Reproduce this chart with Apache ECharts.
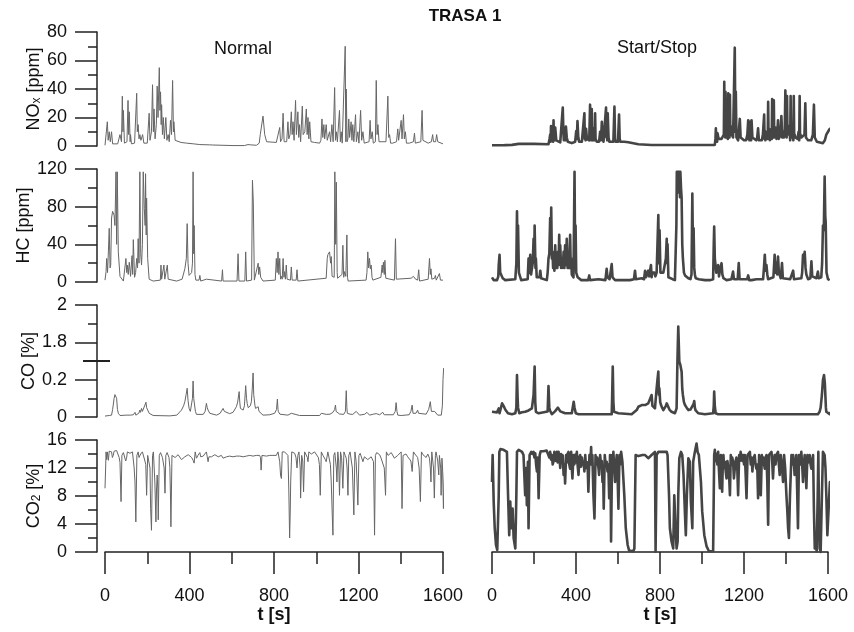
<!DOCTYPE html>
<html><head><meta charset="utf-8">
<script src="https://cdn.jsdelivr.net/npm/echarts@6/dist/echarts.min.js"></script>
<style>html,body{margin:0;padding:0;background:#fff}#c{width:854px;height:632px}</style>
</head><body><div id="c"></div>
<script>
const FONT = '"Liberation Sans", Arial, sans-serif';

// ---- time axis ----
const tMin = 0, tMax = 1600, tInterval = 400;

// ---- NOx [ppm] ----
const noxNormal = [[0,0.5],[8,1],[11,17],[15,4],[20,10],[25,3],[31,10],[36,1.5],[60,1.5],[71,8],[78,3],[82,35],[85,10],[87,25],[92,2],[104,3],[109,32],[112,8],[115,24],[119,3],[121,8],[125,1.5],[140,2],[150,37],[153,10],[157,15],[161,5],[165,8],[170,4],[178,8],[184,2],[200,2],[209,23],[213,4],[220,10],[225,43],[229,10],[232,26],[237,5],[243,15],[247,42],[251,20],[257,55],[260,25],[263,38],[266,15],[268,29],[272,8],[276,20],[281,5],[288,20],[293,4],[299,8],[304,3],[310,18],[315,8],[320,46],[324,10],[326,17],[332,4],[339,3.5],[360,2.5],[386,2],[420,1.5],[449,1],[496,0.8],[504,1.5],[510,0.7],[606,0.3],[660,0.3],[677,1],[690,0.8],[717,0.5],[730,2],[735,8],[748,21],[756,8],[765,3],[772,3],[811,2.5],[820,3],[827,13],[831,3],[838,5],[843,23],[848,3],[860,3],[866,17],[870,5],[876,8],[882,24],[886,8],[890,17],[895,4],[902,32],[906,8],[913,24],[917,6],[921,15],[926,3],[934,28],[938,8],[946,10],[953,26],[957,8],[961,20],[965,5],[969,17],[975,3],[992,2.5],[1016,2],[1022,4],[1027,19],[1031,6],[1036,15],[1040,5],[1047,15],[1052,4],[1063,10],[1068,3],[1074,15],[1080,3],[1087,41],[1091,4],[1095,10],[1100,3],[1110,25],[1114,3],[1118,10],[1123,2],[1132,3],[1137,70],[1140,3],[1142,40],[1146,3],[1150,5],[1154,19],[1158,6],[1165,17],[1169,4],[1173,15],[1178,3],[1186,22],[1190,3],[1197,10],[1202,2],[1210,25],[1215,4],[1221,10],[1227,2],[1236,2],[1250,3],[1255,18],[1259,5],[1265,10],[1270,2],[1280,3],[1284,46],[1288,8],[1292,15],[1297,3],[1307,3],[1330,3],[1339,35],[1343,6],[1347,8],[1352,2],[1362,2],[1380,3],[1386,12],[1390,4],[1402,18],[1406,5],[1413,22],[1417,5],[1422,10],[1427,2],[1441,2],[1460,3],[1465,9],[1469,2],[1473,2],[1495,3],[1501,25],[1505,4],[1512,3],[1530,2],[1545,3],[1551,8],[1555,3],[1559,3],[1565,3],[1570,8],[1575,3],[1583,2],[1600,1.5]];
const noxStartStop = [[0,0.5],[60,0.6],[95,0.8],[127,1.5],[200,1.5],[269,1.2],[274,5],[277,8],[279,3],[281,14],[283,6],[285,13.6],[287,4],[289,7],[291,3],[293,18],[295,5],[297,10],[299,4],[301,13],[306,4],[325,2.5],[333,3],[337,27],[340,10],[342,4],[344,5],[346,3],[348,8],[350,4],[352,13.6],[356,6],[361,3],[380,2],[396,3],[401,10.5],[404,5],[407,17.5],[411,6],[415,3],[428,3],[436,4],[440,23],[442,5],[444,8],[446,4],[448,12],[452,5],[456,4],[463,4],[467,29],[469,5],[471,8],[473,4],[475,26],[477,6],[479,5],[481,4],[483,12],[485,4],[487,6],[489,4],[491,23],[493,5],[495,5],[499,3],[510,3],[515,10],[519,4],[523,17],[527,5],[531,3],[539,3],[543,27],[545,6],[547,8],[549,4],[551,23],[555,6],[559,3],[578,3],[583,27.6],[586,5],[589,3],[600,3],[605,22],[608,5],[611,3],[618,4],[630,3],[649,2.6],[697,1.2],[760,0.7],[1061,0.8],[1064,5],[1066,12.4],[1068,4],[1070,7],[1072,3],[1074,9],[1079,5],[1085,6],[1093,5],[1100,5],[1104,8],[1106,45],[1108,8],[1109,20],[1111,6],[1112,38],[1114,8],[1115,15],[1117,26],[1119,6],[1121,12],[1123,5],[1125,37],[1127,8],[1129,15],[1131,6],[1133,36],[1135,8],[1137,14],[1142,8],[1148,6],[1152,6],[1156,69],[1159,10],[1161,38],[1164,6],[1166,6],[1172,4],[1180,19],[1184,6],[1188,5],[1200,4],[1210,4],[1216,8],[1220,18],[1222,5],[1224,8],[1226,4],[1228,17],[1230,5],[1232,8],[1234,4],[1236,18],[1240,6],[1243,5],[1258,4],[1263,6],[1267,12.4],[1271,4],[1275,3],[1285,4],[1290,8],[1296,22],[1298,5],[1300,8],[1302,4],[1304,10],[1309,8],[1313,5],[1315,31],[1317,6],[1318,10],[1321,12],[1323,4],[1326,6],[1330,8],[1332,5],[1334,33],[1336,8],[1338,15],[1340,6],[1342,32],[1344,6],[1346,10],[1350,13],[1355,5],[1358,8],[1362,18],[1366,5],[1370,5],[1374,8],[1378,21],[1382,6],[1386,10],[1390,6],[1394,10],[1397,39],[1399,8],[1401,14],[1403,6],[1405,35],[1407,8],[1409,12],[1413,14],[1418,8],[1420,4],[1422,35],[1424,6],[1426,10],[1429,14],[1433,8],[1435,4],[1437,35],[1439,6],[1441,8],[1445,6],[1455,5],[1460,10],[1463,4],[1465,35],[1467,6],[1469,8],[1473,6],[1480,5],[1488,8],[1492,30],[1495,6],[1498,6],[1505,4],[1513,3],[1520,4],[1528,8],[1533,29],[1537,6],[1540,5],[1547,3],[1552,2],[1576,2],[1585,4],[1592,8],[1600,10],[1608,12],[1614,12]];

// ---- HC [ppm] ----
const hcNormal = [[0,2],[5,11],[8,25],[12,10],[16,32],[20,57],[24,15],[27,18],[31,68],[36,75],[43,71],[47,60],[52,117],[55,40],[58,117],[63,32],[71,6],[87,1],[95,3],[99,25],[103,10],[106,18],[110,8],[115,21],[121,6],[128,28],[131,8],[134,45],[140,5],[145,10],[150,25],[154,15],[157,46],[161,20],[165,117],[169,30],[173,18],[177,40],[181,117],[186,78],[190,60],[192,115],[195,50],[197,89],[202,25],[209,3],[228,1],[262,2],[265,18],[268,3],[272,2],[276,4],[279,18],[283,3],[287,2],[291,3],[295,18],[299,3],[302,1],[339,1],[365,3],[378,14],[385,25],[389,62],[393,20],[398,7],[410,10],[414,20],[417,117],[420,30],[422,60],[426,8],[430,2],[445,2],[449,7],[453,1],[480,3],[484,1],[488,1],[552,1],[556,13],[559,1],[625,1],[630,30],[634,1],[662,1],[666,32],[670,1],[694,2],[698,108],[702,85],[707,2],[725,20],[728,8],[732,16],[737,5],[740,7],[748,1],[806,2],[811,25],[815,10],[819,32],[823,8],[827,25],[831,3],[835,6],[839,3],[843,25],[847,5],[850,11],[854,3],[858,18],[862,3],[866,4],[878,2],[882,16],[886,2],[890,4],[905,2],[909,13],[913,1],[1047,4],[1052,25],[1055,29],[1063,32],[1068,20],[1071,27],[1075,6],[1079,4],[1085,5],[1088,117],[1092,40],[1095,106],[1099,10],[1101,4],[1110,4],[1122,8],[1126,39],[1130,5],[1134,11],[1140,6],[1145,50],[1148,5],[1151,1],[1236,2],[1240,10],[1244,32],[1248,15],[1252,25],[1256,14],[1260,18],[1264,5],[1268,2],[1306,5],[1312,18],[1315,10],[1318,21],[1322,8],[1325,23],[1329,4],[1331,2],[1370,2],[1375,46],[1379,3],[1381,1],[1449,4],[1455,3],[1460,6],[1465,4],[1470,3],[1480,2],[1485,13],[1489,1],[1530,3],[1536,25],[1540,8],[1543,14],[1547,3],[1551,2],[1560,4],[1564,7],[1568,2],[1575,3],[1583,9],[1588,2],[1600,2]];
const hcStartStop = [[0,5],[8,2],[24,2],[30,6],[32,18],[36,29],[39,10],[41,8],[51,4],[63,2],[111,3],[116,20],[119,75],[122,30],[124,60],[128,10],[130,8],[139,2],[170,3],[174,25],[178,10],[182,29],[186,8],[190,10],[194,20],[198,46],[201,25],[203,60],[207,15],[209,25],[213,5],[217,4],[226,5],[230,12],[234,4],[238,3],[261,2],[265,10],[269,25],[273,30],[277,68],[280,30],[282,79],[285,25],[288,32],[291,15],[293,25],[297,12],[301,39],[304,15],[307,25],[311,15],[314,32],[317,18],[320,50],[323,20],[325,39],[329,15],[333,22],[337,15],[341,32],[345,15],[348,39],[352,18],[356,46],[360,15],[364,28],[368,15],[372,50],[375,15],[377,25],[380,8],[383,10],[388,5],[393,117],[396,20],[398,60],[401,10],[404,10],[408,5],[412,6],[425,2],[436,2],[458,2],[463,7],[467,2],[507,3],[515,2],[540,2],[546,14],[550,5],[554,7],[560,3],[566,5],[570,19],[574,5],[578,6],[586,2],[594,2],[657,2],[676,3],[681,12],[685,3],[689,2],[713,4],[724,3],[729,12],[733,5],[737,6],[741,5],[744,12],[748,6],[752,8],[757,18],[760,5],[763,10],[768,8],[773,10],[778,6],[784,10],[788,8],[792,71],[795,20],[798,55],[802,10],[805,9],[810,8],[816,10],[822,8],[828,25],[832,46],[834,20],[836,40],[840,5],[843,3],[860,3],[871,2],[876,3],[878,60],[880,117],[882,100],[884,117],[886,95],[888,117],[890,105],[893,117],[895,90],[897,117],[900,100],[903,89],[906,40],[909,25],[914,10],[919,7],[927,5],[935,4],[945,3],[950,8],[954,94],[957,30],[960,57],[963,15],[966,8],[970,4],[974,5],[985,3],[1014,2],[1040,2],[1053,3],[1056,40],[1058,59],[1061,25],[1065,25],[1068,10],[1071,12],[1074,8],[1077,18],[1081,6],[1085,12],[1089,10],[1093,20],[1097,8],[1102,4],[1117,2],[1140,3],[1148,11],[1152,3],[1156,2],[1170,3],[1175,20],[1179,3],[1182,2],[1215,3],[1220,7],[1225,2],[1236,2],[1259,3],[1267,2],[1291,3],[1295,15],[1299,29],[1303,12],[1307,18],[1311,8],[1315,3],[1340,5],[1346,29],[1350,10],[1354,20],[1358,8],[1362,27],[1366,10],[1370,12],[1375,4],[1381,20],[1385,4],[1388,3],[1420,3],[1429,4],[1434,12],[1438,3],[1441,2],[1473,4],[1477,10],[1481,29],[1485,22],[1489,32],[1493,15],[1497,8],[1505,3],[1516,4],[1521,22],[1525,6],[1529,4],[1545,4],[1552,11],[1556,4],[1560,3],[1568,5],[1572,20],[1576,60],[1580,55],[1584,112],[1587,70],[1589,64],[1593,10],[1595,8],[1600,3],[1608,2]];

// ---- CO [%] (broken axis 0.3 .. 1.7) ----
const coNormal = [[0,0.005],[20,0.008],[31,0.01],[36,0.04],[39,0.064],[43,0.1],[47,0.12],[51,0.11],[55,0.1],[59,0.04],[63,0.02],[71,0.008],[100,0.01],[120,0.01],[134,0.012],[142,0.025],[146,0.01],[150,0.012],[160,0.02],[165,0.037],[168,0.025],[173,0.046],[177,0.03],[181,0.02],[185,0.04],[189,0.064],[194,0.079],[197,0.05],[200,0.046],[209,0.02],[228,0.008],[307,0.006],[340,0.01],[362,0.037],[372,0.06],[378,0.082],[384,0.12],[389,0.154],[393,0.09],[398,0.046],[404,0.03],[410,0.02],[414,0.1],[417,0.193],[420,0.1],[424,0.064],[428,0.03],[433,0.014],[465,0.014],[474,0.03],[480,0.073],[484,0.05],[488,0.037],[496,0.02],[504,0.014],[528,0.01],[545,0.02],[559,0.046],[565,0.03],[572,0.02],[590,0.018],[606,0.025],[615,0.035],[622,0.055],[628,0.08],[635,0.136],[638,0.08],[641,0.046],[648,0.04],[654,0.037],[660,0.06],[666,0.168],[670,0.1],[673,0.073],[678,0.05],[682,0.046],[688,0.06],[693,0.082],[697,0.15],[701,0.236],[704,0.12],[706,0.1],[710,0.06],[713,0.046],[720,0.05],[725,0.055],[729,0.03],[732,0.02],[748,0.01],[780,0.012],[803,0.02],[812,0.04],[816,0.096],[819,0.04],[821,0.028],[828,0.015],[835,0.01],[866,0.01],[875,0.015],[882,0.02],[890,0.014],[921,0.008],[1016,0.008],[1024,0.02],[1030,0.012],[1047,0.014],[1065,0.015],[1079,0.025],[1087,0.04],[1091,0.064],[1094,0.03],[1098,0.02],[1110,0.016],[1130,0.014],[1138,0.03],[1142,0.141],[1145,0.05],[1147,0.02],[1160,0.015],[1173,0.014],[1182,0.02],[1189,0.03],[1193,0.02],[1205,0.01],[1230,0.015],[1240,0.025],[1244,0.032],[1248,0.015],[1252,0.01],[1270,0.015],[1284,0.018],[1300,0.012],[1315,0.025],[1322,0.012],[1331,0.008],[1365,0.012],[1374,0.03],[1378,0.077],[1382,0.03],[1386,0.01],[1402,0.008],[1440,0.012],[1448,0.03],[1454,0.064],[1458,0.02],[1460,0.014],[1472,0.02],[1480,0.037],[1484,0.02],[1488,0.01],[1520,0.015],[1532,0.04],[1540,0.082],[1545,0.03],[1551,0.02],[1560,0.03],[1567,0.037],[1575,0.01],[1583,0.008],[1592,0.01],[1597,0.06],[1600,0.2],[1603,0.262]];
const coStartStop = [[0,0.028],[8,0.02],[24,0.025],[32,0.046],[36,0.02],[40,0.025],[48,0.073],[52,0.082],[55,0.06],[63,0.04],[76,0.02],[95,0.015],[111,0.02],[116,0.05],[119,0.225],[122,0.1],[124,0.05],[130,0.02],[143,0.025],[158,0.028],[174,0.035],[190,0.046],[198,0.118],[203,0.27],[206,0.08],[209,0.028],[222,0.02],[265,0.03],[269,0.166],[273,0.05],[276,0.035],[285,0.015],[300,0.03],[309,0.037],[314,0.05],[320,0.055],[325,0.03],[329,0.028],[348,0.02],[380,0.02],[389,0.082],[393,0.05],[399,0.02],[412,0.015],[570,0.015],[572,0.1],[575,0.27],[578,0.08],[581,0.028],[602,0.02],[665,0.015],[689,0.037],[697,0.055],[705,0.05],[713,0.064],[721,0.06],[729,0.064],[737,0.07],[744,0.073],[752,0.08],[760,0.118],[764,0.06],[768,0.064],[776,0.046],[780,0.1],[784,0.154],[788,0.2],[792,0.243],[795,0.12],[797,0.154],[801,0.08],[805,0.064],[810,0.05],[816,0.037],[820,0.04],[824,0.046],[828,0.06],[832,0.073],[836,0.07],[840,0.064],[845,0.04],[848,0.037],[855,0.028],[863,0.025],[871,0.02],[879,0.046],[883,0.3],[887,1.884],[892,0.296],[895,0.29],[897,0.279],[900,0.26],[903,0.243],[906,0.15],[909,0.118],[914,0.08],[919,0.064],[927,0.05],[935,0.037],[945,0.04],[954,0.046],[960,0.07],[963,0.086],[966,0.05],[969,0.037],[982,0.02],[1014,0.015],[1053,0.02],[1056,0.06],[1058,0.136],[1061,0.06],[1065,0.02],[1077,0.015],[1200,0.015],[1300,0.015],[1400,0.015],[1500,0.015],[1552,0.015],[1560,0.028],[1565,0.05],[1571,0.118],[1576,0.2],[1581,0.225],[1585,0.18],[1587,0.19],[1590,0.05],[1592,0.028],[1608,0.015],[1615,0.028]];
const coTickLabels = [0, 0.2, 1.8, 2];
const coBreak = [0.3, 1.7];

// ---- CO2 [%] ----
const co2Normal = [[0,9.1],[3,12],[5,14.3],[8,13.2],[11,14.3],[16,13.1],[20,14.4],[26,14.2],[31,14.3],[35,13.5],[39,13.8],[43,14.4],[47,14.3],[55,14.5],[63,14.4],[67,13.5],[71,12.8],[76,7.2],[80,13.8],[87,14.2],[94,14],[98,13],[102,13.4],[106,14.3],[110,14.3],[118,14.1],[126,14],[130,14.3],[134,14.3],[138,12],[142,10],[146,4.3],[151,13.8],[157,14.3],[161,13.5],[165,13.4],[169,14],[173,13.8],[177,14.3],[181,14.3],[189,13],[193,12.5],[197,8.1],[202,13.8],[209,13.8],[213,12],[216,6.2],[220,3.1],[225,13.8],[229,14.3],[232,14.3],[236,10],[241,4.3],[244,9],[247,11],[250,9],[252,4.6],[257,13.8],[263,14.2],[268,14.3],[272,13.5],[276,13.4],[280,12],[284,8.4],[288,13.8],[294,14.2],[299,14.3],[303,13.5],[307,12.1],[310,8],[312,3.6],[317,13.8],[322,14],[326,13.9],[332,13.5],[339,13.6],[346,13.9],[354,13.8],[362,13.2],[370,13.4],[378,13.6],[386,13.6],[394,13.9],[402,13.9],[410,13.5],[417,13.1],[422,12.7],[427,14.3],[433,13.4],[440,13.8],[449,14.2],[453,13.6],[457,13.4],[461,13.7],[465,13.7],[472,14],[480,14.3],[484,13.6],[488,12.9],[492,13.6],[496,13.8],[504,13.6],[512,13.6],[520,13.9],[528,13.7],[536,13.6],[543,13.7],[551,13.8],[559,13.4],[567,13.6],[575,13.6],[590,13.7],[606,13.6],[622,13.7],[638,13.7],[654,13.6],[669,13.7],[685,13.8],[701,13.7],[716,13.8],[732,13.8],[736,13.5],[739,11.7],[743,13.8],[750,13.8],[764,13.7],[780,13.8],[795,13.8],[811,13.8],[819,14.3],[823,14.5],[827,12.9],[831,11],[835,10.5],[839,14.3],[845,14.4],[850,14.3],[858,14.1],[866,13.8],[870,9],[874,2],[877,6],[879,10],[884,14.3],[890,14.3],[898,14.1],[904,13.5],[909,12],[913,13.8],[918,14.3],[921,14.3],[924,12],[926,7.7],[931,13.8],[936,13],[940,8.6],[945,14.3],[950,14.3],[953,14.3],[958,13.5],[961,12.9],[965,14.3],[969,14.3],[977,14],[984,14.1],[992,14.3],[1000,14.3],[1010,13.5],[1015,12.5],[1019,8.1],[1024,14.3],[1032,13.8],[1039,13.8],[1043,13.2],[1047,12.9],[1055,14.3],[1063,14.3],[1067,12.5],[1071,10],[1075,6],[1079,2.4],[1083,13.8],[1088,14.2],[1091,14.3],[1095,12],[1098,10],[1102,14.3],[1106,13],[1110,8.1],[1115,14.3],[1120,13.5],[1126,9.1],[1131,14.3],[1137,13.8],[1142,13.4],[1146,12],[1150,8.1],[1154,13.8],[1160,14.3],[1165,14.3],[1171,12],[1178,5.3],[1183,14.3],[1189,12.9],[1193,10],[1197,6.7],[1202,13.8],[1208,14.1],[1213,14.3],[1221,12.9],[1228,13.6],[1236,13.8],[1244,13.2],[1252,13.4],[1260,13.6],[1271,12.9],[1274,7],[1276,2.4],[1280,13.8],[1286,14.2],[1292,14.3],[1300,13.9],[1307,13.4],[1315,13.6],[1322,12],[1328,8.1],[1332,14.3],[1340,13.8],[1347,13.8],[1355,14.2],[1362,14.3],[1370,13.4],[1378,13.6],[1386,13.8],[1394,14],[1402,14.3],[1406,6.2],[1411,13.8],[1418,14],[1425,14],[1433,13.6],[1441,13.4],[1448,13],[1454,11.5],[1460,14.3],[1467,14],[1473,13.8],[1480,13.5],[1487,12],[1493,7.2],[1498,14.3],[1505,13.9],[1512,13.8],[1520,13.5],[1528,14],[1536,13.4],[1540,12],[1543,10],[1547,14.3],[1551,14.3],[1555,12],[1559,7.7],[1564,13.8],[1567,14.3],[1570,14.3],[1575,13],[1580,11],[1583,13.8],[1586,13.8],[1589,12],[1591,8.1],[1595,13.4],[1598,12],[1602,6.2],[1605,10],[1607,11.5]];
const co2StartStop = [[0,10],[3,13.85],[8,7.2],[13,3.4],[19,1],[25,0.3],[32,8.1],[35,14.3],[40,14.7],[55,14.6],[71,14.3],[76,8.6],[82,2.4],[87,7.2],[92,3.4],[98,6.2],[103,2],[111,0.5],[116,8.1],[119,14.3],[127,14.6],[143,14.3],[150,13.85],[158,8.1],[162,12],[166,6.7],[171,12.9],[174,3.4],[179,13.85],[187,14.3],[192,14],[198,14.3],[202,13.5],[206,14.1],[210,12.5],[214,11.5],[218,13.5],[222,7.7],[227,13.85],[232,14.4],[238,14.6],[245,14.4],[253,14.3],[260,14.5],[269,14.3],[273,13.5],[277,14.3],[281,13.2],[285,13.85],[289,12.5],[293,12.9],[297,14.3],[301,14.3],[305,13],[309,14.3],[313,12.8],[317,14.3],[321,13.5],[325,12],[329,14],[333,12.9],[337,13.8],[341,11],[345,12.5],[348,9.8],[353,13.85],[357,12.8],[360,14],[364,14.3],[368,12.5],[372,11.9],[377,14.3],[380,12],[383,10.5],[388,13.85],[392,12.5],[396,13.9],[400,12.8],[404,14.3],[408,12.3],[412,11],[416,13.5],[420,13.85],[424,12.2],[428,13.5],[432,12.5],[436,12.9],[440,11.5],[444,13.85],[448,12],[451,11.9],[455,12.8],[459,8.6],[464,13.85],[468,12.5],[472,15],[475,12.5],[478,13.85],[483,8.1],[488,4.8],[493,13.85],[497,12.5],[501,13.5],[504,13.4],[507,12],[510,11],[515,13.85],[519,12.5],[523,13],[526,10],[529,12],[532,6.2],[537,13.85],[541,12.5],[546,12.9],[550,11.5],[554,12.5],[558,7.7],[562,13.85],[565,10],[567,1.5],[570,9],[572,13.85],[575,12.5],[578,14.3],[582,12],[586,10],[590,12.5],[594,13.85],[598,11],[602,6.2],[607,13.85],[611,12.5],[615,14.3],[621,12.9],[630,8.1],[637,3.4],[646,1],[653,0.2],[673,0.1],[678,0.5],[684,13.85],[689,13.85],[697,13.7],[705,13.6],[717,13.85],[729,13.85],[744,13.4],[760,13.85],[776,14.3],[779,0.05],[784,13.85],[792,14.3],[808,14.3],[832,14.3],[836,13.85],[843,8.1],[847,3.4],[855,1.5],[863,0.5],[868,8.1],[874,3.4],[879,0.5],[884,1.5],[887,8.1],[892,13.4],[900,14.3],[906,13.85],[912,11],[919,5.3],[923,2.4],[928,8.1],[935,13.4],[942,12.9],[947,7.2],[954,3.4],[958,12.9],[966,14.3],[974,15.5],[979,14.3],[985,13.85],[995,10],[1001,5.8],[1011,2.4],[1022,0.8],[1033,0.1],[1053,0.1],[1058,13.85],[1061,14.6],[1065,13],[1069,14],[1073,12.5],[1077,14.3],[1081,11.5],[1085,9.1],[1090,13.85],[1093,12],[1096,8.6],[1099,12.5],[1102,13.85],[1106,12],[1109,12.9],[1113,11.5],[1117,10.5],[1121,13],[1125,12.9],[1129,11],[1133,8.1],[1137,13.85],[1141,12.5],[1144,13.5],[1148,12.9],[1152,10.5],[1156,11.9],[1160,13],[1164,13.5],[1168,12],[1172,8.1],[1177,13.85],[1181,13],[1184,14.3],[1188,14.3],[1192,13],[1196,13.85],[1200,12.5],[1204,13.85],[1208,11],[1212,7.7],[1217,13.85],[1222,14.1],[1228,14.3],[1232,12.5],[1236,13.5],[1240,11.5],[1243,12.9],[1247,13.5],[1251,13.85],[1255,12.5],[1259,11.9],[1263,12.5],[1267,7.7],[1272,13.85],[1276,12.5],[1280,8.1],[1285,13.85],[1289,12.5],[1292,13.5],[1296,12.5],[1299,11.9],[1303,13.5],[1307,13.85],[1311,10],[1315,3.9],[1319,13.85],[1325,14.1],[1331,14.3],[1335,12.5],[1338,10.5],[1342,13],[1346,13.85],[1350,12.5],[1355,13.9],[1362,14.3],[1366,12.5],[1370,11],[1375,13.85],[1380,12.5],[1386,10],[1391,13.85],[1396,12],[1402,8.1],[1406,6],[1410,3.4],[1414,2],[1419,8.1],[1426,13.85],[1430,12.5],[1434,13.85],[1438,12.5],[1441,11],[1449,13.85],[1453,9],[1457,3.4],[1462,13.85],[1467,12.5],[1473,14.3],[1477,12.5],[1481,10],[1485,12.5],[1489,13.85],[1493,12],[1497,9.1],[1502,13.85],[1507,12.8],[1513,13.85],[1517,12.5],[1521,11.9],[1525,13],[1529,13.85],[1533,6],[1537,0.5],[1541,1.5],[1546,0.1],[1551,8.1],[1554,14.3],[1557,6],[1560,0.5],[1565,0],[1571,8.1],[1576,14.3],[1580,14.3],[1584,13.85],[1588,12],[1592,8.1],[1597,2.4],[1603,6.2],[1609,10],[1616,9.1],[1620,10]];

const columnTitles = ['Normal', 'Start/Stop'];
const mainTitle = 'TRASA 1';

function coToAxis(v) { return v > coBreak[0] ? v - (coBreak[1] - coBreak[0]) : v; }

const rows = [
  { name: 'NO{s|x} [ppm]', max: 80, interval: 20, data: [noxNormal, noxStartStop], map: v => v, fmt: v => String(v) },
  { name: 'HC [ppm]', max: 120, interval: 40, data: [hcNormal, hcStartStop], map: v => v, fmt: v => String(v) },
  { name: 'CO [%]', max: coToAxis(2), interval: 0.2, data: [coNormal, coStartStop], map: coToAxis,
    fmt: v => { const m = coTickLabels.find(r => Math.abs(coToAxis(r) - v) < 1e-6); return m === undefined ? '' : String(m); } },
  { name: 'CO{s|2} [%]', max: 16, interval: 4, data: [co2Normal, co2StartStop], map: v => v, fmt: v => String(v) }
];

const colLeft = [105, 492], colWidth = [338, 336];
const rowTop = [32, 169, 305, 440], rowHeight = [114, 113, 112, 112];
const lineColor = ['#666666', '#454545'];
const lineWidth = [1, 2.6];

const grid = [], xAxis = [], yAxis = [], series = [];
for (let c = 0; c < 2; c++) {
  for (let r = 0; r < 4; r++) {
    const idx = grid.length;
    const row = rows[r];
    grid.push({ left: colLeft[c], top: rowTop[r], width: colWidth[c], height: rowHeight[r], containLabel: false });
    xAxis.push({
      gridIndex: idx, type: 'value', min: tMin, max: tMax, interval: tInterval,
      show: r === 3, position: 'bottom',
      axisLine: { show: true, onZero: false, lineStyle: { color: '#222', width: 1.5 } },
      axisTick: { show: true, length: 22, lineStyle: { color: '#222', width: 1.5 } },
      minorTick: { show: true, splitNumber: 2, length: 12, lineStyle: { color: '#222', width: 1.5 } },
      splitLine: { show: false }, minorSplitLine: { show: false },
      axisLabel: { margin: 35, fontSize: 18, color: '#111', fontFamily: FONT, formatter: v => String(v) },
      name: 't [s]', nameLocation: 'middle', nameGap: 53,
      nameTextStyle: { fontSize: 18, fontWeight: 'bold', color: '#111', fontFamily: FONT }
    });
    yAxis.push({
      gridIndex: idx, type: 'value', min: 0, max: row.max, interval: row.interval,
      show: c === 0, position: 'left', offset: 8,
      axisLine: { show: true, onZero: false, lineStyle: { color: '#222', width: 1.5 } },
      axisTick: { show: true, length: 22, lineStyle: { color: '#222', width: 1.5 } },
      minorTick: { show: true, splitNumber: 2, length: 9, lineStyle: { color: '#222', width: 1.5 } },
      splitLine: { show: false }, minorSplitLine: { show: false },
      axisLabel: { margin: 30, fontSize: 18, color: '#111', fontFamily: FONT, formatter: row.fmt },
      name: row.name, nameLocation: 'middle', nameGap: 54, nameRotate: 90,
      nameTextStyle: { fontSize: 18, color: '#111', fontFamily: FONT,
        rich: { s: { fontSize: 12, color: '#111', fontFamily: FONT, verticalAlign: 'bottom', lineHeight: 14 } } }
    });
    series.push({
      type: 'line', xAxisIndex: idx, yAxisIndex: idx,
      data: row.data[c].map(p => [p[0], row.map(p[1])]),
      showSymbol: false, symbol: 'none', clip: false,
      lineStyle: { color: lineColor[c], width: lineWidth[c], join: 'round' },
      silent: true, animation: false
    });
  }
}

const chart = echarts.init(document.getElementById('c'), null, { renderer: 'canvas' });
chart.setOption({ backgroundColor: '#fff', animation: false, grid, xAxis, yAxis, series });

// axis-break mark on CO axis (drawn at the break value)
const yb = chart.convertToPixel({ yAxisIndex: 2 }, coBreak[0]);
const axX = colLeft[0] - 8;
chart.setOption({
  graphic: [
    { type: 'text', x: 465, y: 16, style: { text: mainTitle, align: 'center', verticalAlign: 'middle', font: 'bold 17px ' + FONT, fill: '#111' } },
    { type: 'text', x: colLeft[0] + 138, y: 49, style: { text: columnTitles[0], align: 'center', verticalAlign: 'middle', font: '18px ' + FONT, fill: '#111' } },
    { type: 'text', x: colLeft[1] + 165, y: 48, style: { text: columnTitles[1], align: 'center', verticalAlign: 'middle', font: '18px ' + FONT, fill: '#111' } },
    { type: 'line', shape: { x1: axX - 14, y1: yb, x2: axX + 13, y2: yb }, style: { stroke: '#222', lineWidth: 2 } }
  ]
});
</script>
</body></html>
